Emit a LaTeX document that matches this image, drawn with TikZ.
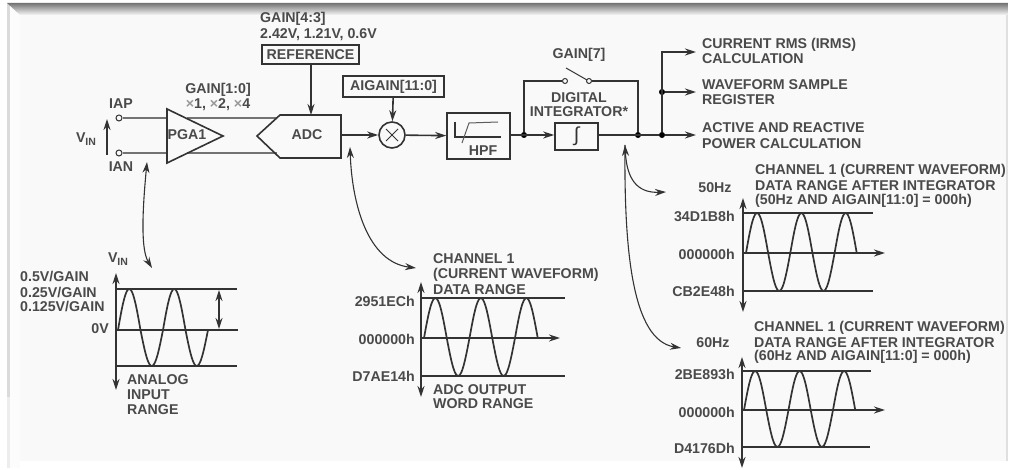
\documentclass[tikz,border=0pt]{standalone}
\usepackage{fontspec}
\setmainfont{Liberation Sans}
\usetikzlibrary{arrows.meta,positioning,calc}
\definecolor{inkc}{HTML}{333333}
\definecolor{txtc}{HTML}{4A4A4A}
\definecolor{facec}{HTML}{F9F9F9}
\newcommand{\vinlabel}{V\raisebox{-3pt}{\fontsize{10.5}{10.5}\selectfont IN}}
\newcommand{\sinewave}[6]{% start x, zero y, period, up, down, end angle
  \draw[wave] plot[domain=0:#6,samples=90,smooth] ({#1+\x/360*#3},{#2-((#4+#5)/2*sin(\x)+(#4-#5)/2*abs(sin(\x)))});
}
\tikzset{
  lbl/.style={font=\bfseries\fontsize{14.2}{15}\selectfont, text=txtc, inner sep=0pt, anchor=west},
  rlbl/.style={lbl, anchor=east},
  clbl/.style={lbl, anchor=center},
  block/.style={draw=inkc, line width=1.6pt, fill=facec},
  boxn/.style={block, rectangle, inner sep=0pt, font=\bfseries\fontsize{14.2}{15}\selectfont, text=txtc},
  pin/.style={draw=inkc, circle, line width=1pt, fill=facec, minimum size=6pt, inner sep=0pt},
  junc/.style={draw=black, fill=black, circle, minimum size=5.5pt, inner sep=0pt},
  sig/.style={draw=inkc, line width=1.6pt},
  arr/.style={sig, -{Stealth[length=11pt,width=7pt]}},
  darr/.style={sig, {Stealth[length=11pt,width=7pt]}-{Stealth[length=11pt,width=7pt]}},
  curvearr/.style={draw=inkc, line width=1.1pt, {Stealth[length=11pt,width=7pt]}-{Stealth[length=11pt,width=7pt]}},
  curveend/.style={draw=inkc, line width=1.1pt, -{Stealth[length=11pt,width=7pt]}},
  wave/.style={draw=inkc, line width=1.7pt},
}
\begin{document}
\begin{tikzpicture}[x=1pt,y=-1pt]
\useasboundingbox (0,0) rectangle (1010,470);
\fill[white] (0,0) rectangle (1010,470);
% panel
\fill[black!14] (7,3) rectangle (10,397);
\fill[black!7] (7,397) rectangle (10,468);
\fill[black!1] (10,3) rectangle (20,468);
\fill[facec] (20,15) rectangle (1006,461);
\shade[top color=black!55, bottom color=black!3] (7,3) -- (1008,3) -- (1008,15) -- (20,15) -- cycle;
\fill[black!12] (1006,15) rectangle (1008,461);
% front end
\node[pin] (iap) at (119,118) {};
\node[pin] (ian) at (119,153) {};
\node[lbl, anchor=center] (iaplbl) at (121,104) {IAP};
\node[lbl, anchor=center] (ianlbl) at (121,167) {IAN};
\node[lbl, anchor=center] (vinlbl) at (86,139) {\vinlabel};
\coordinate (vinb) at (107,155); \coordinate (vint) at (107,119);
\draw[arr] (vinb) -- (vint);
\coordinate (pgaup) at (167,118); \coordinate (pgalo) at (167,153);
\coordinate (pgaup2) at (187,118); \coordinate (pgalo2) at (187,153);
\coordinate (adcup) at (277,118); \coordinate (adclo) at (277,153);
\draw[sig, draw=black!55] (iap) -- (pgaup); \draw[sig, draw=black!55] (ian) -- (pgalo);
\draw[sig, draw=black!55] (pgaup2) -- (adcup); \draw[sig, draw=black!55] (pgalo2) -- (adclo);
\draw[inkc, line width=1.6pt] (167,109) coordinate (pgat) -- (223,136) coordinate (pgao) -- (167,163) coordinate (pgab) -- cycle;
\node[clbl] (pga) at (187,135) {PGA1};
\draw[inkc, line width=1.6pt] (257,136) coordinate (adci) -- (280,115) -- (341,115) -- (341,158) -- (280,158) -- cycle;
\node[clbl] (adc) at (307,135) {ADC};
\coordinate (adco) at (341,135);
\coordinate (adct) at (311,115);
\node[clbl] (gainb) at (218,90) {GAIN[1:0]};
\node[clbl] (gainx) at (218,105) {{\color{black!40}×}1, {\color{black!40}×}2, {\color{black!40}×}4};
\node[lbl] (gainr) at (260,19) {GAIN[4:3]};
\node[lbl] (gainv) at (260,35) {2.42V, 1.21V, 0.6V};
\node[boxn, minimum width=97pt, minimum height=19pt] (ref) at (310.5,54.5) {REFERENCE};
\node[boxn, minimum width=101pt, minimum height=21pt] (aigain) at (393.5,86.5) {AIGAIN[11:0]};
\node[draw=inkc, line width=1.6pt, circle, minimum size=26pt, inner sep=0pt] (mult) at (392,135) {};
\draw[inkc, line width=1pt] ($(mult)+(-6,-6)$) -- ($(mult)+(6,6)$);
\draw[inkc, line width=1pt] ($(mult)+(-6,6)$) -- ($(mult)+(6,-6)$);
\node[block, rectangle, minimum width=63pt, minimum height=46pt, inner sep=0pt] (hpf) at (478.5,136) {};
\node[clbl] (hpflbl) at (483,151) {HPF};
\draw[inkc, line width=1.6pt] (455,122) -- (455,137) -- (501,137);
\draw[inkc!80, line width=1pt] (462,143) -- (469,123) -- (498,122);
\draw[arr] (ref.south -| adct) -- (adct);
\draw[arr] (aigain) -- (mult);
\draw[arr] (adco) -- (mult);
\draw[arr] (mult) -- (hpf);
% integrator
\node[block, rectangle, minimum width=43pt, minimum height=27pt, inner sep=0pt] (intg) at (576.5,136.5) {};
\node[inner sep=0pt, text=inkc, font=\fontsize{20}{20}\selectfont] (intsym) at (intg) {∫};
\node[junc] (jin) at (524,135) {};
\node[junc] (jout) at (638,135) {};
\node[junc] (jtap) at (662,135) {};
\node[junc] (jwav) at (662,92) {};
\node[pin, minimum size=5pt] (swl) at (565,81) {};
\node[pin, minimum size=5pt] (swr) at (589,81) {};
\coordinate (swa) at (566,68); \coordinate (swb) at (587,80);
\draw[inkc, line width=1pt] (swa) -- (swb);
\draw[sig] (jin) |- (swl); \draw[sig] (swr) -| (jout);
\draw[arr] (hpf.east |- jin) -- (intg.west |- jin);
\draw[sig] (intg.east |- jout) -- (jtap);
\node[clbl] (gain7) at (579,55) {GAIN[7]};
\node[clbl] (diglbl) at (579,98) {DIGITAL};
\node[clbl] (intlbl) at (579,112) {INTEGRATOR*};
\coordinate (rmso) at (696,52); \coordinate (wavo) at (696,92); \coordinate (acto) at (696,135);
\draw[arr] (jtap) -- (acto);
\draw[arr] (jtap) |- (rmso);
\draw[arr] (jwav) -- (wavo);
\node[lbl] (rms1) at (702,45) {CURRENT RMS (IRMS)};
\node[lbl] (rms2) at (702,59) {CALCULATION};
\node[lbl] (wav1) at (702,85) {WAVEFORM SAMPLE};
\node[lbl] (wav2) at (702,100) {REGISTER};
\node[lbl] (act1) at (702,128) {ACTIVE AND REACTIVE};
\node[lbl] (act2) at (702,144) {POWER CALCULATION};
% curved pointers
\coordinate (pa1) at (147,162); \coordinate (pb1) at (152,268);
\draw[curvearr] (pa1) .. controls (142,215) and (141,250) .. (pb1);
\coordinate (pa2) at (350,147); \coordinate (pb2) at (416,268);
\draw[curvearr] (pa2) .. controls (352,205) and (368,262) .. (pb2);
\coordinate (pa3) at (625,145); \coordinate (pb3) at (666,192); \coordinate (pb4) at (681,348);
\draw[curvearr] (pa3) .. controls (627,185) and (642,193) .. (pb3);
\draw[curveend] (pa3) .. controls (624,250) and (632,340) .. (pb4);
% input range graph
\coordinate (g1t) at (116,273); \coordinate (g1b) at (116,390);
\coordinate (g1u) at (116,289); \coordinate (g1ue) at (237,289);
\coordinate (g1m) at (116,330); \coordinate (g1me) at (238,330);
\coordinate (g1d) at (116,366); \coordinate (g1de) at (237,366);
\draw[darr] (g1b) -- (g1t);
\draw[sig] (g1u) -- (g1ue); \draw[sig] (g1m) -- (g1me); \draw[sig] (g1d) -- (g1de);
\sinewave{118}{330}{45}{41}{36}{720}
\coordinate (g1a) at (219,290); \coordinate (g1c) at (219,329);
\draw[darr] (g1a) -- (g1c);
\node[clbl] (vinaxis) at (118,259) {\vinlabel};
\node[lbl] (v05) at (20,276) {0.5V/GAIN};
\node[lbl] (v025) at (20,292) {0.25V/GAIN};
\node[lbl] (v0125) at (20,306) {0.125V/GAIN};
\node[rlbl] (v0) at (109,329) {0V};
\node[lbl] (ana1) at (127,380) {ANALOG};
\node[lbl] (ana2) at (127,395) {INPUT};
\node[lbl] (ana3) at (127,410) {RANGE};
% adc output graph
\coordinate (g2t) at (421,282); \coordinate (g2b) at (421,397);
\coordinate (g2u) at (421,298); \coordinate (g2ue) at (565,298);
\coordinate (g2m) at (421,338); \coordinate (g2me) at (560,338);
\coordinate (g2d) at (421,376); \coordinate (g2de) at (565,376);
\draw[darr] (g2b) -- (g2t);
\draw[sig] (g2u) -- (g2ue); \draw[arr] (g2m) -- (g2me); \draw[sig] (g2d) -- (g2de);
\sinewave{424}{338}{45.5}{40}{38}{900}
\node[rlbl] (a1) at (415,301) {2951ECh};
\node[rlbl] (a2) at (415,339) {000000h};
\node[rlbl] (a3) at (415,376) {D7AE14h};
\node[lbl] (ch1) at (433,259) {CHANNEL 1};
\node[lbl] (ch2) at (433,275) {(CURRENT WAVEFORM)};
\node[lbl] (ch3) at (433,290) {DATA RANGE};
\node[lbl] (ch4) at (433,390) {ADC OUTPUT};
\node[lbl] (ch5) at (433,404) {WORD RANGE};
% 50Hz graph
\coordinate (g3t) at (743,198); \coordinate (g3b) at (743,312);
\coordinate (g3u) at (743,213); \coordinate (g3ue) at (873,213);
\coordinate (g3m) at (743,253); \coordinate (g3me) at (885,253);
\coordinate (g3d) at (743,291); \coordinate (g3de) at (873,291);
\draw[darr] (g3b) -- (g3t);
\draw[sig] (g3u) -- (g3ue); \draw[arr] (g3m) -- (g3me); \draw[sig] (g3d) -- (g3de);
\sinewave{746}{253}{44.3}{40}{38}{900}
\node[clbl] (hz50) at (715,188) {50Hz};
\node[rlbl] (b1) at (735,216) {34D1B8h};
\node[rlbl] (b2) at (735,254) {000000h};
\node[rlbl] (b3) at (735,291) {CB2E48h};
\node[lbl] (t1) at (755,171) {CHANNEL 1 (CURRENT WAVEFORM)};
\node[lbl] (t2) at (755,186) {DATA RANGE AFTER INTEGRATOR};
\node[lbl] (t3) at (755,201) {(50Hz AND AIGAIN[11:0] = 000h)};
% 60Hz graph
\coordinate (g4t) at (742,357); \coordinate (g4b) at (742,468);
\coordinate (g4u) at (742,371); \coordinate (g4ue) at (871,371);
\coordinate (g4m) at (742,410); \coordinate (g4me) at (885,410);
\coordinate (g4d) at (742,447); \coordinate (g4de) at (870,447);
\draw[darr] (g4b) -- (g4t);
\draw[sig] (g4u) -- (g4ue); \draw[arr] (g4m) -- (g4me); \draw[sig] (g4d) -- (g4de);
\sinewave{744}{410}{44.5}{39}{37}{900}
\node[clbl] (hz60) at (713,343) {60Hz};
\node[rlbl] (c1) at (735,374) {2BE893h};
\node[rlbl] (c2) at (735,412) {000000h};
\node[rlbl] (c3) at (735,448) {D4176Dh};
\node[lbl] (u1) at (754,328) {CHANNEL 1 (CURRENT WAVEFORM)};
\node[lbl] (u2) at (754,343) {DATA RANGE AFTER INTEGRATOR};
\node[lbl] (u3) at (754,357) {(60Hz AND AIGAIN[11:0] = 000h)};
\end{tikzpicture}
\end{document}
